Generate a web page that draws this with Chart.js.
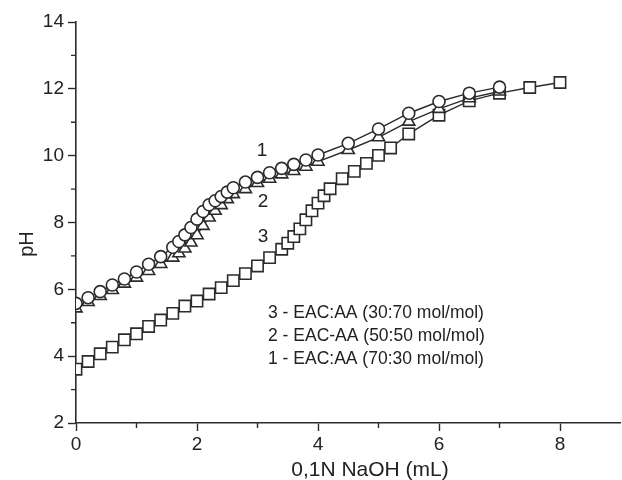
<!DOCTYPE html>
<html>
<head>
<meta charset="utf-8">
<script src="https://cdn.jsdelivr.net/npm/chart.js@4/dist/chart.umd.min.js"></script>
<style>
  html, body { margin: 0; padding: 0; background: #fff; }
  #wrap { position: relative; width: 622px; height: 480px; }
</style>
</head>
<body>
<div id="wrap"><canvas id="chart" width="622" height="480"></canvas></div>
<script>
// Titration curves: pH against added 0,1N NaOH (mL)
let vol1 = [0, 0.2, 0.4, 0.6, 0.8, 1.0, 1.2, 1.4, 1.6, 1.7, 1.8, 1.9, 2.0, 2.1, 2.2, 2.3, 2.4, 2.5, 2.6, 2.8, 3.0, 3.2, 3.4, 3.6, 3.8, 4.0, 4.5, 5.0, 5.5, 6.0, 6.5, 7.0];
let ph1  = [5.58, 5.75, 5.93, 6.13, 6.31, 6.52, 6.75, 6.98, 7.26, 7.43, 7.63, 7.85, 8.10, 8.33, 8.53, 8.65, 8.78, 8.91, 9.04, 9.21, 9.35, 9.49, 9.62, 9.74, 9.87, 10.02, 10.37, 10.80, 11.27, 11.62, 11.87, 12.05];

let vol2 = vol1;
let ph2  = [5.43, 5.62, 5.80, 5.98, 6.17, 6.35, 6.55, 6.76, 6.95, 7.08, 7.22, 7.40, 7.62, 7.90, 8.15, 8.35, 8.52, 8.70, 8.85, 9.00, 9.18, 9.31, 9.44, 9.54, 9.67, 9.82, 10.17, 10.55, 11.02, 11.40, 11.72, 11.92];

let vol3 = [0, 0.2, 0.4, 0.6, 0.8, 1.0, 1.2, 1.4, 1.6, 1.8, 2.0, 2.2, 2.4, 2.6, 2.8, 3.0, 3.2, 3.4, 3.5, 3.6, 3.7, 3.8, 3.9, 4.0, 4.1, 4.2, 4.4, 4.6, 4.8, 5.0, 5.2, 5.5, 6.0, 6.5, 7.0, 7.5, 8.0];
let ph3  = [3.61, 3.84, 4.07, 4.27, 4.49, 4.67, 4.89, 5.08, 5.28, 5.50, 5.65, 5.86, 6.05, 6.26, 6.47, 6.70, 6.95, 7.20, 7.38, 7.58, 7.81, 8.08, 8.35, 8.58, 8.80, 9.01, 9.31, 9.53, 9.77, 10.01, 10.23, 10.65, 11.21, 11.64, 11.87, 12.04, 12.19];

let xTicks = [0, 2, 4, 6, 8];
let yTicks = [2, 4, 6, 8, 10, 12, 14];
let legendLines = ["3 - EAC:AA (30:70 mol/mol)", "2 - EAC-AA (50:50 mol/mol)", "1 - EAC:AA (70:30 mol/mol)"];

let ink = "#2b2b2b";
let fontFam = "'Liberation Sans', Arial, sans-serif";

function toPoints(xs, ys) {
  let pts = [];
  for (let i = 0; i < xs.length; i++) {
    pts.push({x: xs[i], y: ys[i]});
  }
  return pts;
}

function series(pts, style, radius) {
  return {
    data: pts,
    showLine: true,
    borderColor: ink,
    borderWidth: 1.4,
    pointStyle: style,
    pointRadius: radius,
    pointBorderWidth: 1.6,
    pointBorderColor: ink,
    pointBackgroundColor: "#fff",
    tension: 0
  };
}

// minor ticks, axis titles, curve numbers and the composition key
let extras = {
  id: 'extras',
  afterDraw(chart) {
    let c = chart.ctx;
    let xs = chart.scales.x, ys = chart.scales.y;
    let area = chart.chartArea;
    c.save();
    c.strokeStyle = ink;
    c.lineWidth = 1.4;
    c.beginPath();
    for (let v = 1; v <= 7; v += 2) {
      let px = xs.getPixelForValue(v);
      c.moveTo(px, area.bottom);
      c.lineTo(px, area.bottom + 5);
    }
    for (let v = 3; v <= 13; v += 2) {
      let py = ys.getPixelForValue(v);
      c.moveTo(area.left, py);
      c.lineTo(area.left - 5, py);
    }
    c.stroke();

    c.fillStyle = "#222";
    c.font = "21px " + fontFam;
    c.textAlign = "center";
    c.textBaseline = "middle";
    c.fillText("0,1N NaOH (mL)", 370, 470);

    c.save();
    c.translate(27, 244);
    c.rotate(-Math.PI / 2);
    c.font = "20px " + fontFam;
    c.fillText("pH", 0, 0);
    c.restore();

    c.font = "19px " + fontFam;
    c.fillText("1", 262, 151);
    c.fillText("2", 263, 202);
    c.fillText("3", 263, 237);

    c.font = "17.5px " + fontFam;
    c.textAlign = "left";
    for (let i = 0; i < legendLines.length; i++) {
      c.fillText(legendLines[i], 268, 313 + i * 23);
    }
    c.restore();
  }
};

let ctx = document.getElementById('chart').getContext('2d');
let titrationChart = new Chart(ctx, {
  type: 'scatter',
  data: {
    datasets: [
      series(toPoints(vol1, ph1), 'circle', 6),
      series(toPoints(vol2, ph2), 'triangle', 7),
      series(toPoints(vol3, ph3), 'rect', 8)
    ]
  },
  options: {
    responsive: false,
    animation: false,
    layout: { autoPadding: false, padding: { top: 22, right: 1.5, left: 0, bottom: 0 } },
    plugins: { legend: { display: false }, tooltip: { enabled: false } },
    scales: {
      x: {
        type: 'linear',
        min: 0,
        max: 9,
        afterBuildTicks(scale) { scale.ticks = xTicks.map(v => ({value: v})); },
        afterFit(scale) {
          scale.height = 57;
          scale.paddingLeft = 0;
          scale.paddingRight = 0;
        },
        border: { display: true, color: ink, width: 1.6 },
        grid: { drawOnChartArea: false, color: ink, tickLength: 8, tickWidth: 1.4 },
        ticks: { color: "#222", padding: 2, font: { size: 19, family: fontFam } }
      },
      y: {
        type: 'linear',
        min: 2,
        max: 14,
        afterBuildTicks(scale) { scale.ticks = yTicks.map(v => ({value: v})); },
        afterFit(scale) {
          scale.width = 76;
          scale.paddingTop = 0;
          scale.paddingBottom = 0;
        },
        border: { display: true, color: ink, width: 1.6 },
        grid: { drawOnChartArea: false, color: ink, tickLength: 8, tickWidth: 1.4 },
        ticks: { color: "#222", padding: 4, font: { size: 19, family: fontFam } }
      }
    }
  },
  plugins: [extras]
});
</script>
</body>
</html>
